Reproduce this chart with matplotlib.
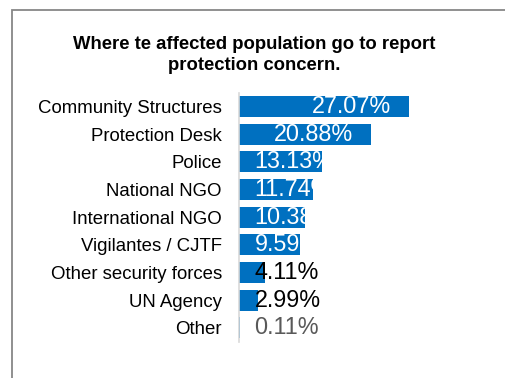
import matplotlib
matplotlib.use('Agg')
import matplotlib.pyplot as plt
from matplotlib.patches import Rectangle

# Données
categories = ['Community Structures', 'Protection Desk', 'Police', 'National NGO',
              'International NGO', 'Vigilantes / CJTF', 'Other security forces',
              'UN Agency', 'Other']
valeurs = [27.07, 20.88, 13.13, 11.74, 10.38, 9.59, 4.11, 2.99, 0.11]
etiquettes = ['27.07%', '20.88%', '13.13%', '11.74%', '10.38%', '9.59%', '4.11%', '2.99%', '0.11%']
titre = 'Where te affected population go to report\nprotection concern.'

plt.rcParams['font.family'] = ['Liberation Sans', 'DejaVu Sans']

W, H = 506, 378
fig = plt.figure(figsize=(W / 100, H / 100), dpi=100)

# cadre gris autour du graphique
fig.add_artist(Rectangle((12.5 / W, -0.1), 1.2, (H - 9.5) / H + 0.1,
                         transform=fig.transFigure, fill=False,
                         edgecolor='#878787', linewidth=1.3))

# titre (va='baseline' -> ligne du bas)
fig.text(254 / W, (H - 70) / H, titre, ha='center', va='baseline',
         fontsize=13.3, fontweight='bold', linespacing=1.32)

ax = fig.add_axes([239.5 / W, (H - 341.7) / H, 251 / W, 249 / H])
y = list(range(len(categories)))
barres = ax.barh(y, valeurs, height=0.75, color='#0070C0')
ax.set_xlim(0, 40)
ax.set_ylim(len(categories) - 0.5, -0.5)

ax.set_yticks(y)
ax.set_yticklabels(categories, fontsize=13.4)
ax.tick_params(axis='y', length=0, pad=12.6)
ax.set_xticks([])
for s in ['top', 'right', 'bottom']:
    ax.spines[s].set_visible(False)
ax.spines['left'].set_color('#d9d9d9')
ax.spines['left'].set_linewidth(1.2)

# Étiquettes de données
for i, (v, lab, b) in enumerate(zip(valeurs, etiquettes, barres)):
    if v > 5:
        couleur = 'white'
    elif v > 1:
        couleur = 'black'
    else:
        couleur = '#595959'
    if v > 18:
        t = ax.text(v - 2.83, i, lab, ha='right', va='center', fontsize=16.8, color=couleur)
    else:
        t = ax.text(2.39, i, lab, ha='left', va='center', fontsize=16.8, color=couleur)
    if v > 5:
        t.set_clip_path(b)

fig.savefig('out.png', dpi=100)
